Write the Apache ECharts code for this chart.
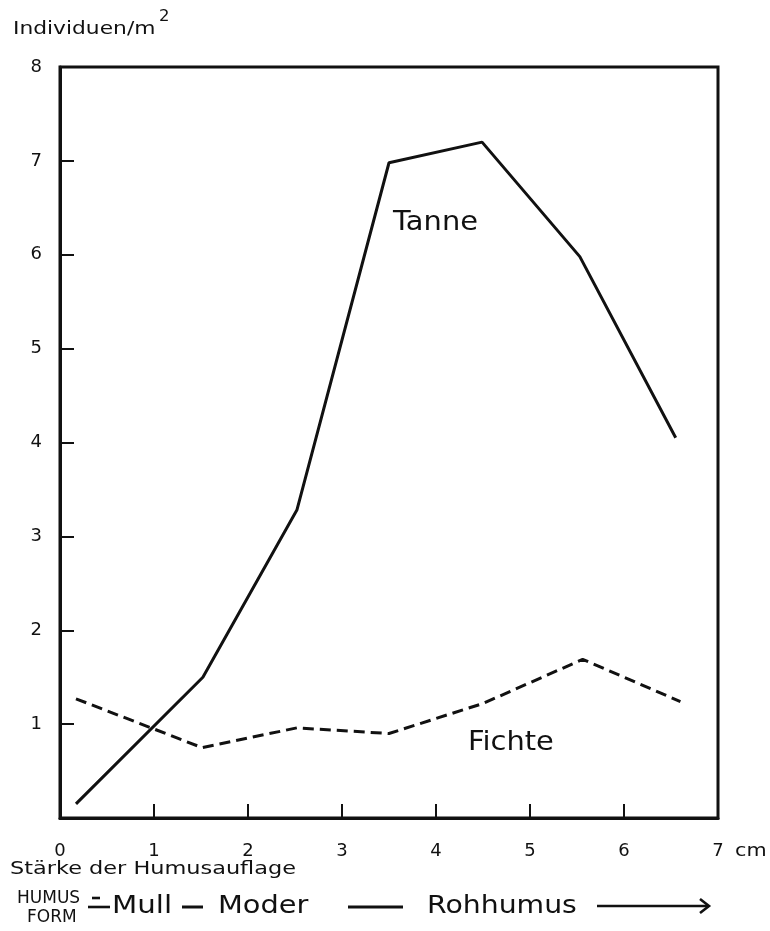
<!DOCTYPE html>
<html>
<head>
<meta charset="utf-8">
<script src="https://cdn.jsdelivr.net/npm/echarts@6/dist/echarts.min.js"></script>
<style>
  html, body { margin: 0; padding: 0; background: #fff; }
  #chart { width: 770px; height: 931px; }
</style>
</head>
<body>
<div id="chart"></div>
<script>
// thickness of humus layer (cm) -> individuals per m2
const tanne = [[0.17, 0.15], [1.52, 1.5], [2.52, 3.28], [3.5, 6.98], [4.49, 7.2], [5.53, 5.98], [6.55, 4.05]];
const fichte = [[0.17, 1.27], [1.51, 0.75], [2.52, 0.96], [3.5, 0.9], [4.5, 1.22], [5.56, 1.69], [6.6, 1.24]];
const xTicks = [0, 1, 2, 3, 4, 5, 6, 7];
const yTicks = [1, 2, 3, 4, 5, 6, 7, 8];

const font = 'DejaVu Sans';
const ink = '#111';

// text drawn a bit wider, like the lettering stencil of the original
const label = (text, x, y, size, sx = 1.2) => ({
  type: 'text', x, y, scaleX: sx, originX: 0,
  style: { text, x: 0, y: 0, font: size + 'px ' + font, fill: ink, verticalAlign: 'middle', align: 'left' },
});
const stroke = (x1, y1, x2, y2, w = 2.6) => ({
  type: 'line', shape: { x1, y1, x2, y2 }, style: { stroke: ink, lineWidth: w },
});

const chart = echarts.init(document.getElementById('chart'));

chart.setOption({
  animation: false,
  backgroundColor: '#fff',
  textStyle: { fontFamily: font, color: ink },
  grid: {
    left: 60, right: 52, top: 67, bottom: 113,
    show: true, borderColor: ink, borderWidth: 3, backgroundColor: 'transparent',
  },
  xAxis: {
    type: 'value', min: 0, max: 7, interval: 1,
    axisLine: { show: true, lineStyle: { color: ink, width: 3 } },
    axisTick: { show: true, inside: true, length: 14, lineStyle: { color: ink, width: 2 } },
    axisLabel: {
      color: ink, fontSize: 18, margin: 24,
      formatter: (v) => (xTicks.includes(v) ? String(v) : ''),
    },
    splitLine: { show: false },
  },
  yAxis: {
    type: 'value', min: 0, max: 8, interval: 1,
    axisLine: { show: true, lineStyle: { color: ink, width: 3 } },
    axisTick: { show: true, inside: true, length: 14, lineStyle: { color: ink, width: 2 } },
    axisLabel: {
      color: ink, fontSize: 18, margin: 18,
      formatter: (v) => (yTicks.includes(v) ? String(v) : ''),
    },
    splitLine: { show: false },
  },
  series: [
    {
      name: 'Tanne', type: 'line', data: tanne, symbol: 'none',
      lineStyle: { color: ink, width: 3 },
    },
    {
      name: 'Fichte', type: 'line', data: fichte, symbol: 'none',
      lineStyle: { color: ink, width: 3, type: [11, 6] },
    },
  ],
  graphic: [
    label('Individuen/m', 13, 29, 18, 1.21),
    label('2', 159, 17, 15, 1.1),
    label('Tanne', 393, 223, 27, 1.07),
    label('Fichte', 468, 743, 27, 1.07),
    label('cm', 735, 851, 18, 1.15),
    label('Stärke der Humusauflage', 10, 869, 18, 1.245),
    label('HUMUS', 17, 899, 17, 1),
    label('FORM', 27, 918, 17, 1),
    stroke(92, 898, 100, 898),
    stroke(88, 907, 110, 907),
    label('Mull', 112, 907, 24, 1.22),
    stroke(182, 907, 203, 907, 3),
    label('Moder', 218, 907, 24, 1.2),
    stroke(348, 907, 403, 907, 3),
    label('Rohhumus', 427, 907, 24, 1.18),
    stroke(597, 906, 708, 906, 2.6),
    { type: 'polyline', shape: { points: [[700, 899], [709, 906], [700, 913]] }, style: { stroke: ink, lineWidth: 2.6, fill: null } },
  ],
});
</script>
</body>
</html>
